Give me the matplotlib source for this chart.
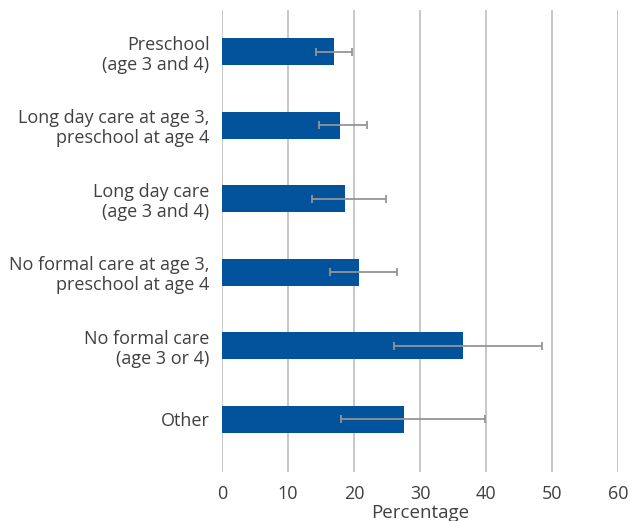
import matplotlib.pyplot as plt
import numpy as np

# care arrangement categories, top to bottom
categories = [
    "Preschool\n(age 3 and 4)",
    "Long day care at age 3,\npreschool at age 4",
    "Long day care\n(age 3 and 4)",
    "No formal care at age 3,\npreschool at age 4",
    "No formal care\n(age 3 or 4)",
    "Other",
]
percent = [17.0, 17.9, 18.6, 20.8, 36.5, 27.6]
ci_low = [14.2, 14.7, 13.6, 16.4, 26.1, 18.0]
ci_high = [19.7, 22.0, 24.8, 26.5, 48.5, 39.8]

plt.rcParams['font.family'] = ['Open Sans', 'DejaVu Sans']
text_col = '#404040'

fig = plt.figure(figsize=(6.3, 5.21), dpi=100)
ax = fig.add_axes([0.3524, 0.094, 0.6286, 0.887])

y = np.arange(len(categories))
vals = np.array(percent)
err = [vals - np.array(ci_low), np.array(ci_high) - vals]

ax.barh(y, vals, height=0.37, color='#02529C', zorder=2)
ax.errorbar(vals, y, xerr=err, fmt='none', ecolor='#959595',
            elinewidth=1.3, capsize=3, capthick=1.3, zorder=3)

ax.set_xlim(0, 60)
ax.set_ylim(5.72, -0.57)
ax.set_xticks(range(0, 61, 10))
ax.set_yticks(y)
ax.set_yticklabels(categories, ha='right', linespacing=1.15)
ax.xaxis.grid(True, color='#b8b8b8', linewidth=1.1, zorder=0)
ax.set_axisbelow(True)

for s in ax.spines.values():
    s.set_visible(False)
ax.tick_params(axis='both', length=0, colors=text_col)
ax.tick_params(axis='y', pad=9, labelsize=13)
ax.tick_params(axis='x', pad=9, labelsize=13)
ax.set_xlabel("Percentage", fontsize=13.5, color=text_col, labelpad=1)

fig.savefig("out.png", dpi=100)
